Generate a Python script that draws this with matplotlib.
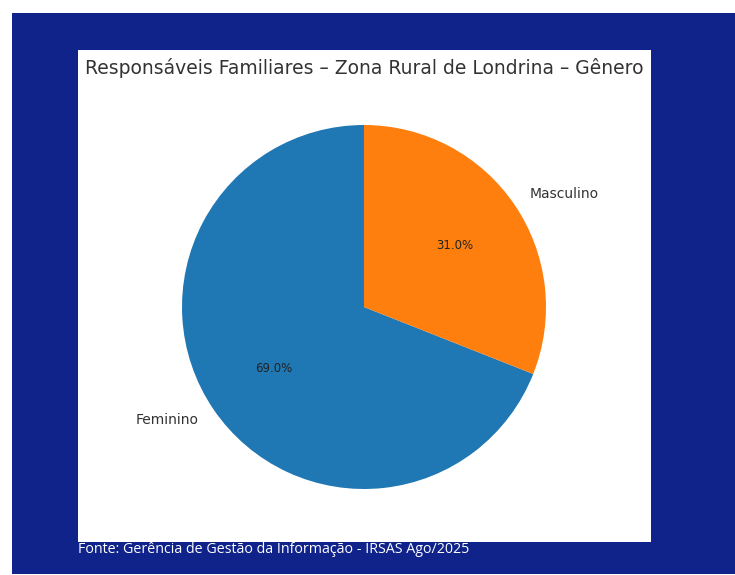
import matplotlib
matplotlib.use("Agg")
import matplotlib.pyplot as plt
from matplotlib.patches import Rectangle

# dados
categorias = ["Feminino", "Masculino"]
percentuais = [69.0, 31.0]
cores = ["#1f77b4", "#ff7f0e"]
titulo = "Responsáveis Familiares – Zona Rural de Londrina – Gênero"
fonte = "Fonte: Gerência de Gestão da Informação - IRSAS Ago/2025"

W, H = 735, 575
fig = plt.figure(figsize=(W / 100, H / 100), dpi=100, facecolor="white")

# fundo azul
fig.patches.append(Rectangle((12 / W, 1 / H), (W - 12) / W, (H - 14) / H,
                             transform=fig.transFigure, facecolor="#0f238b",
                             edgecolor="none", zorder=0))
# painel branco
fig.patches.append(Rectangle((78 / W, (H - 542) / H), 573 / W, 492 / H,
                             transform=fig.transFigure, facecolor="white",
                             edgecolor="none", zorder=0.5))

fig.text(364 / W, 1 - 68 / H, titulo, ha="center", va="center",
         fontsize=13.5, color="#333333", family="DejaVu Sans")

ax = fig.add_axes([182 / W, (H - 489) / H, 364 / W, 364 / H])
ax.set_zorder(2)
ax.patch.set_visible(False)
wedges, texts, autotexts = ax.pie(percentuais, labels=categorias, colors=cores,
                                  autopct="%1.1f%%", startangle=90,
                                  textprops={"color": "#333333", "fontsize": 10,
                                             "family": "DejaVu Sans"})
for t in autotexts:
    t.set_fontsize(8.5)
    t.set_color("#222222")
ax.set_xlim(-1, 1)
ax.set_ylim(-1, 1)

fig.text(78 / W, 1 - 553 / H, fonte, ha="left", va="baseline",
         fontsize=10.3, color="white", family="Open Sans")

fig.savefig("out.png", dpi=100, facecolor="white")
